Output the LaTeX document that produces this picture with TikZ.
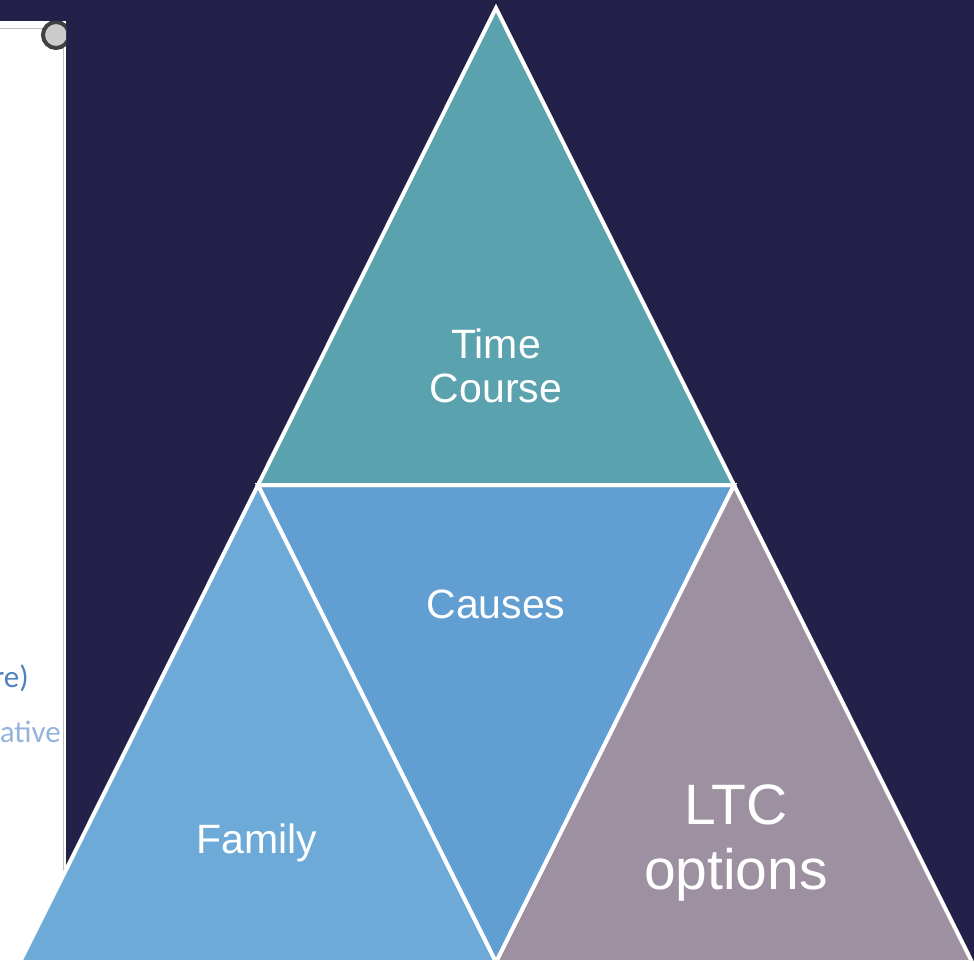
\documentclass[tikz,border=0pt]{standalone}
\usepackage{fontspec}
\setmainfont{Liberation Sans}
\newfontfamily\notefont{Carlito}
\usetikzlibrary{calc}

\definecolor{slidebg}{HTML}{23214A}
\definecolor{timecol}{HTML}{5AA2AE}
\definecolor{causecol}{HTML}{619ED1}
\definecolor{familycol}{HTML}{6DAAD7}
\definecolor{ltccol}{HTML}{9D90A1}
\definecolor{notedark}{HTML}{4F81BD}
\definecolor{notelight}{HTML}{93B4DC}

\tikzset{
  piece/.style={draw=white, line width=4pt},
  word/.style={text=white, align=center, inner sep=0pt}
}

\begin{document}
\begin{tikzpicture}[x=1pt, y=-1pt]
\fill[slidebg] (0,0) rectangle (974,961);
\useasboundingbox (0,0) rectangle (974,961);

% sheet peeking out on the left
\fill[white] (0,21) rectangle (66,961);
\draw[black!25, line width=1pt] (0,28) -- (63,28) -- (63,961);
\begin{scope}
\clip (0,21) rectangle (66,961);
\filldraw[fill=black!20, draw=black!75, line width=4pt] (56,35) circle (13);
\node[anchor=base east, text=notedark, font=\notefont\fontsize{31}{34}\selectfont, inner sep=0pt] (note1) at (29,687) {re)};
\node[anchor=base east, text=notelight, font=\notefont\fontsize{31}{34}\selectfont, inner sep=0pt] (note2) at (61,742) {ative};
\end{scope}

% corners of the pyramid
\coordinate (top) at (496,8);
\coordinate (midL) at (258,485);
\coordinate (midR) at (734,485);
\coordinate (botL) at (20,962);
\coordinate (botM) at (496,962);
\coordinate (botR) at (972,962);

\begin{scope}
\clip (0,0) rectangle (974,961);
\filldraw[piece, fill=familycol] (midL) -- (botM) -- (botL) -- cycle;
\filldraw[piece, fill=ltccol] (midR) -- (botR) -- (botM) -- cycle;
\filldraw[piece, fill=causecol] (midL) -- (midR) -- (botM) -- cycle;
\filldraw[piece, fill=timecol] (top) -- (midR) -- (midL) -- cycle;
\end{scope}

\node[word, font=\fontsize{41}{44}\selectfont] (time) at (496,366) {Time\\Course};
\node[word, font=\fontsize{41}{44}\selectfont] (cause) at (496,604) {Causes};
\node[word, font=\fontsize{41}{44}\selectfont] (family) at (257,843) {Family};
\node[word, font=\fontsize{57}{65}\selectfont] (ltc) at (736,843) {LTC\\options};
\end{tikzpicture}
\end{document}
